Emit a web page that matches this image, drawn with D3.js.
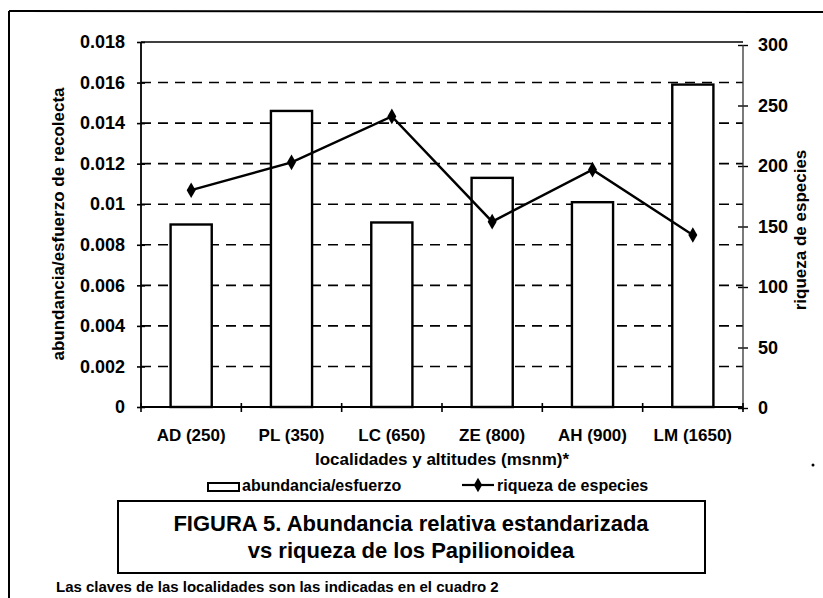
<!DOCTYPE html>
<html>
<head>
<meta charset="utf-8">
<script src="https://cdn.jsdelivr.net/npm/d3@7"></script>
<style>
  body { margin: 0; background: #fff; }
  text { font-family: "Liberation Sans", Arial, sans-serif; fill: #000; }
</style>
</head>
<body>
<div id="chart"></div>
<script>
var localidades = ['AD (250)', 'PL (350)', 'LC (650)', 'ZE (800)', 'AH (900)', 'LM (1650)'];
var abundancia = [0.0090, 0.0146, 0.0091, 0.0113, 0.0101, 0.0159];
var riqueza = [180, 203, 241, 154, 197, 143];
var leftTicks = [0, 0.002, 0.004, 0.006, 0.008, 0.01, 0.012, 0.014, 0.016, 0.018];
var leftTickLabels = ['0', '0.002', '0.004', '0.006', '0.008', '0.01', '0.012', '0.014', '0.016', '0.018'];
var rightTicks = [0, 50, 100, 150, 200, 250, 300];

var width = 823;
var height = 598;

var svg = d3
  .select('#chart')
  .append('svg')
  .attr('width', width)
  .attr('height', height);

svg.append('rect').attr('width', width).attr('height', height).attr('fill', '#fff');

// outer frame (only top and left edges visible in the scan)
svg.append('line').attr('x1', 9).attr('x2', width).attr('y1', 11).attr('y2', 12)
  .attr('stroke', '#000').attr('stroke-width', 2);
svg.append('line').attr('x1', 9).attr('x2', 9).attr('y1', 11).attr('y2', height)
  .attr('stroke', '#000').attr('stroke-width', 2);

var plotLeft = 141, plotRight = 743, plotTop = 42, plotBottom = 407;

var x = d3.scaleBand().domain(localidades).range([plotLeft, plotRight])
  .paddingInner(0.59).paddingOuter(0.295);
var y = d3.scaleLinear().domain([0, 0.018]).range([plotBottom, plotTop]);
var y2 = d3.scaleLinear().domain([0, 300]).range([plotBottom + 1, plotTop + 3]);

var plot = svg.append('g');

// dashed gridlines
plot.selectAll('line.grid')
  .data(leftTicks.filter(function (d) { return d > 0 && d < 0.018; }))
  .enter()
  .append('line')
  .attr('class', 'grid')
  .attr('x1', plotLeft)
  .attr('x2', plotRight)
  .attr('y1', function (d) { return y(d); })
  .attr('y2', function (d) { return y(d); })
  .attr('stroke', '#000')
  .attr('stroke-width', 1.6)
  .attr('stroke-dasharray', '10,7');

// top border of plot area
plot.append('line').attr('x1', plotLeft).attr('x2', plotRight)
  .attr('y1', y(0.018)).attr('y2', y(0.018))
  .attr('stroke', '#000').attr('stroke-width', 1.6);

// bars
plot.selectAll('rect.bar')
  .data(abundancia)
  .enter()
  .append('rect')
  .attr('class', 'bar')
  .attr('x', function (d, i) { return x(localidades[i]); })
  .attr('width', x.bandwidth())
  .attr('y', function (d) { return y(d); })
  .attr('height', function (d) { return y(0) - y(d); })
  .attr('fill', '#fff')
  .attr('stroke', '#000')
  .attr('stroke-width', 2.4);

// left axis
var yAxis = d3.axisLeft(y)
  .tickValues(leftTicks)
  .tickFormat(function (d, i) { return leftTickLabels[i]; })
  .tickSize(4)
  .tickPadding(12);
var gy = svg.append('g').attr('transform', 'translate(' + plotLeft + ',0)').call(yAxis);
gy.select('.domain').remove();
gy.selectAll('.tick line').attr('x1', -4).attr('x2', 4).attr('stroke-width', 1.6);
gy.selectAll('.tick text')
  .style('font-size', '18px').style('font-weight', 'bold')
  .style('font-family', '"Liberation Sans", Arial, sans-serif');
svg.append('line').attr('x1', plotLeft).attr('x2', plotLeft).attr('y1', plotTop).attr('y2', plotBottom)
  .attr('stroke', '#000').attr('stroke-width', 1.8);

// right axis
var yAxis2 = d3.axisRight(y2).tickValues(rightTicks).tickSize(5).tickPadding(10);
var gy2 = svg.append('g').attr('transform', 'translate(' + plotRight + ',0)').call(yAxis2);
gy2.select('.domain').remove();
gy2.selectAll('.tick line').attr('x1', -5).attr('x2', 5).attr('stroke-width', 1.4);
gy2.selectAll('.tick text')
  .style('font-size', '18px').style('font-weight', 'bold')
  .style('font-family', '"Liberation Sans", Arial, sans-serif');
svg.append('line').attr('x1', plotRight).attr('x2', plotRight).attr('y1', y2(300)).attr('y2', y2(0) + 2)
  .attr('stroke', '#333').attr('stroke-width', 1.3);

// bottom axis with ticks between categories
svg.append('line').attr('x1', plotLeft).attr('x2', plotRight).attr('y1', y(0)).attr('y2', y(0))
  .attr('stroke', '#000').attr('stroke-width', 2.2);
var edges = localidades.map(function (d) { return x(d) - x.step() * x.paddingInner() / 2; });
edges.push(plotRight);
svg.selectAll('line.xtick')
  .data(edges)
  .enter()
  .append('line')
  .attr('class', 'xtick')
  .attr('x1', function (d) { return d; })
  .attr('x2', function (d) { return d; })
  .attr('y1', y(0) - 4)
  .attr('y2', y(0) + 5)
  .attr('stroke', '#000')
  .attr('stroke-width', 1.6);
svg.selectAll('text.xlab')
  .data(localidades)
  .enter()
  .append('text')
  .attr('class', 'xlab')
  .attr('x', function (d) { return x(d) + x.bandwidth() / 2; })
  .attr('y', 441)
  .attr('text-anchor', 'middle')
  .style('font-size', '17px')
  .style('font-weight', 'bold')
  .text(function (d) { return d; });

// riqueza line
var line = d3.line()
  .x(function (d, i) { return x(localidades[i]) + x.bandwidth() / 2; })
  .y(function (d) { return y2(d); });
plot.append('path').datum(riqueza).attr('d', line)
  .attr('fill', 'none').attr('stroke', '#000').attr('stroke-width', 2.4);
plot.selectAll('path.mk')
  .data(riqueza)
  .enter()
  .append('path')
  .attr('class', 'mk')
  .attr('d', d3.symbol().type(d3.symbolDiamond).size(70))
  .attr('transform', function (d, i) {
    return 'translate(' + (x(localidades[i]) + x.bandwidth() / 2) + ',' + y2(d) + ')';
  })
  .attr('fill', '#000');

// axis titles
svg.append('text')
  .attr('transform', 'translate(64,224) rotate(-90)')
  .attr('text-anchor', 'middle')
  .style('font-size', '17px').style('font-weight', 'bold')
  .text('abundancia/esfuerzo de recolecta');
svg.append('text')
  .attr('transform', 'translate(806,230) rotate(-90)')
  .attr('text-anchor', 'middle')
  .style('font-size', '17px').style('font-weight', 'bold')
  .text('riqueza de especies');
svg.append('text')
  .attr('x', (plotLeft + plotRight) / 2)
  .attr('y', 465)
  .attr('text-anchor', 'middle')
  .style('font-size', '17px').style('font-weight', 'bold')
  .text('localidades y altitudes (msnm)*');

// legend
var lg = svg.append('g');
lg.append('rect').attr('x', 208).attr('y', 483).attr('width', 31).attr('height', 8)
  .attr('fill', '#fff').attr('stroke', '#000').attr('stroke-width', 2);
lg.append('text').attr('x', 242).attr('y', 491)
  .style('font-size', '16px').style('font-weight', 'bold').text('abundancia/esfuerzo');
lg.append('line').attr('x1', 462).attr('x2', 494).attr('y1', 485).attr('y2', 485)
  .attr('stroke', '#000').attr('stroke-width', 2.2);
lg.append('path').attr('d', d3.symbol().type(d3.symbolDiamond).size(60))
  .attr('transform', 'translate(478,485)').attr('fill', '#000');
lg.append('text').attr('x', 497).attr('y', 491)
  .style('font-size', '16px').style('font-weight', 'bold').text('riqueza de especies');

// title box
svg.append('rect').attr('x', 118).attr('y', 501).attr('width', 587).attr('height', 72)
  .attr('fill', 'none').attr('stroke', '#000').attr('stroke-width', 2);
svg.append('text').attr('x', 411).attr('y', 531).attr('text-anchor', 'middle')
  .style('font-size', '22px').style('font-weight', 'bold')
  .text('FIGURA 5. Abundancia relativa estandarizada');
svg.append('text').attr('x', 411).attr('y', 558).attr('text-anchor', 'middle')
  .style('font-size', '22px').style('font-weight', 'bold')
  .text('vs riqueza de los Papilionoidea');

// footnote
svg.append('text').attr('x', 56).attr('y', 592)
  .style('font-size', '15px').style('font-weight', 'bold')
  .text('Las claves de las localidades son las indicadas en el cuadro 2');

svg.append('circle').attr('cx', 813).attr('cy', 465).attr('r', 1.5).attr('fill', '#000');
</script>
</body>
</html>
